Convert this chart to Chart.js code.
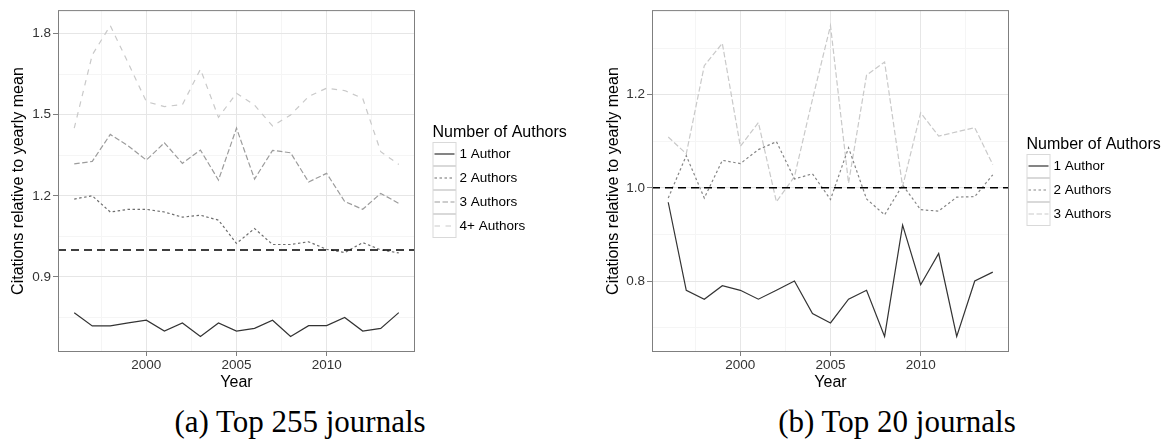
<!DOCTYPE html>
<html>
<head>
<meta charset="utf-8">
<script src="https://cdn.jsdelivr.net/npm/chart.js@4.4.1/dist/chart.umd.min.js"></script>
<style>
  body { margin: 0; background: #fff; }
  #page { position: relative; width: 1171px; height: 448px; overflow: hidden; background: #fff; }
  canvas { position: absolute; top: 0; }
  #chart-top255 { left: 0; }
  #chart-top20 { left: 590px; }
  .caption {
    position: absolute; top: 404px; width: 400px; text-align: center;
    font-family: "Liberation Serif", "Times New Roman", serif; font-size: 31px;
    line-height: 36px; color: #000; white-space: nowrap;
  }
</style>
</head>
<body>
<div id="page">
  <canvas id="chart-top255" width="575" height="395"></canvas>
  <canvas id="chart-top20" width="581" height="395"></canvas>
  <div class="caption" style="left:100px">(a) Top 255 journals</div>
  <div class="caption" style="left:697px">(b) Top 20 journals</div>
</div>
<script>
const years = [1996, 1997, 1998, 1999, 2000, 2001, 2002, 2003, 2004, 2005,
               2006, 2007, 2008, 2009, 2010, 2011, 2012, 2013, 2014];

// top 255 journals
const top255OneAuthor   = [0.768, 0.719, 0.719, 0.730, 0.740, 0.700, 0.730, 0.680, 0.730, 0.700,
                           0.710, 0.740, 0.680, 0.720, 0.720, 0.750, 0.700, 0.710, 0.768];
const top255TwoAuthors  = [1.188, 1.200, 1.140, 1.150, 1.150, 1.140, 1.121, 1.128, 1.110, 1.024,
                           1.079, 1.020, 1.020, 1.030, 1.002, 0.990, 1.027, 1.000, 0.989];
const top255ThreeAuthors = [1.318, 1.327, 1.427, 1.384, 1.332, 1.396, 1.320, 1.369, 1.258, 1.450,
                            1.262, 1.368, 1.359, 1.251, 1.283, 1.179, 1.150, 1.209, 1.172];
const top255FourPlus    = [1.450, 1.721, 1.829, 1.690, 1.548, 1.530, 1.537, 1.668, 1.490, 1.579,
                           1.535, 1.458, 1.499, 1.567, 1.598, 1.589, 1.560, 1.363, 1.316];

// top 20 journals
const top20OneAuthor    = [0.969, 0.780, 0.761, 0.790, 0.780, 0.761, 0.780, 0.800, 0.730, 0.710,
                           0.761, 0.780, 0.681, 0.920, 0.792, 0.859, 0.681, 0.800, 0.819];
const top20TwoAuthors   = [0.978, 1.069, 0.978, 1.059, 1.052, 1.082, 1.099, 1.019, 1.030, 0.975,
                           1.086, 0.976, 0.942, 1.006, 0.953, 0.950, 0.980, 0.981, 1.028];
const top20ThreeAuthors = [1.109, 1.073, 1.262, 1.310, 1.089, 1.140, 0.970, 1.024, 1.190, 1.348,
                           1.010, 1.242, 1.270, 1.003, 1.161, 1.111, 1.120, 1.129, 1.050];

const yearMajor = [2000, 2005, 2010];
const yearMinor = [1997.5, 2002.5, 2007.5, 2012.5];
const top255Major = [0.9, 1.2, 1.5, 1.8];
const top255Minor = [0.75, 1.05, 1.35, 1.65];
const top20Major = [0.8, 1.0, 1.2];
const top20Minor = [0.7, 0.9, 1.1, 1.3];

const referenceLevel = 1.0;

const SANS = '"Liberation Sans", Arial, Helvetica, sans-serif';

function points(values) {
    return years.map((y, i) => ({x: y, y: values[i]}));
}

// ggplot-style 5% expansion of the data range
function expandRange(lo, hi) {
    const pad = (hi - lo) * 0.05;
    return [lo - pad, hi + pad];
}

// panel border + legend with boxed keys
const panelExtras = {
    id: 'panelExtras',
    afterDraw(chart, args, opts) {
        const {ctx, chartArea} = chart;
        ctx.save();
        ctx.strokeStyle = '#7f7f7f';
        ctx.lineWidth = 1;
        ctx.strokeRect(chartArea.left + 0.5, chartArea.top + 0.5,
                       chartArea.right - chartArea.left - 1, chartArea.bottom - chartArea.top - 1);

        const items = chart.data.datasets.filter(d => !d.isReference);
        const key = 24;
        const x = chartArea.right + opts.gap;
        const mid = (chartArea.top + chartArea.bottom) / 2;
        const keysTop = Math.round(mid - items.length * key / 2 + 8.7);

        ctx.textBaseline = 'middle';
        ctx.fillStyle = '#000';
        ctx.font = '16px ' + SANS;
        ctx.fillText(opts.title, x, keysTop - 9.5);

        items.forEach((d, i) => {
            const y = keysTop + i * key;
            ctx.fillStyle = '#fff';
            ctx.fillRect(x, y, key, key);
            ctx.strokeStyle = '#d9d9d9';
            ctx.lineWidth = 1;
            ctx.setLineDash([]);
            ctx.strokeRect(x + 0.5, y + 0.5, key - 1, key - 1);

            ctx.beginPath();
            ctx.setLineDash(d.borderDash || []);
            ctx.strokeStyle = d.borderColor;
            ctx.lineWidth = d.borderWidth;
            ctx.moveTo(x + 2, y + key / 2);
            ctx.lineTo(x + key - 2, y + key / 2);
            ctx.stroke();
            ctx.setLineDash([]);

            ctx.fillStyle = '#000';
            ctx.font = '13.5px ' + SANS;
            ctx.fillText(d.label, x + key + 3, y + key / 2 + 0.5);
        });
        ctx.restore();
    }
};

function seriesDataset(label, values, color, dash) {
    return {
        label: label,
        data: points(values),
        borderColor: color,
        borderDash: dash,
        borderWidth: 1.2,
        pointRadius: 0,
        tension: 0,
        fill: false
    };
}

function loadRelativeCitations(canvasId, series, yMajor, yMinor, layout) {
    const ctx = document.getElementById(canvasId).getContext('2d');
    const all = series.flatMap(s => s.values);
    const [yMin, yMax] = expandRange(Math.min(...all), Math.max(...all));
    const [xMin, xMax] = expandRange(years[0], years[years.length - 1]);

    const datasets = series.map(s => seriesDataset(s.label, s.values, s.color, s.dash));
    datasets.push({
        label: 'mean',
        isReference: true,
        data: [{x: xMin, y: referenceLevel}, {x: xMax, y: referenceLevel}],
        borderColor: '#000',
        borderDash: [8, 5],
        borderWidth: 1.5,
        pointRadius: 0,
        order: -1
    });

    const myChart = new Chart(ctx, {
        type: 'line',
        data: {datasets: datasets},
        options: {
            responsive: false,
            animation: false,
            events: [],
            layout: {padding: {left: 0, top: 10, right: layout.right, bottom: 0}},
            plugins: {
                legend: {display: false},
                tooltip: {enabled: false},
                panelExtras: {title: 'Number of Authors', gap: 17.5}
            },
            scales: {
                x: {
                    type: 'linear',
                    min: xMin,
                    max: xMax,
                    afterBuildTicks: scale => {
                        scale.ticks = yearMinor.concat(yearMajor).sort((a, b) => a - b).map(v => ({value: v}));
                    },
                    afterFit: scale => { scale.height = 43; },
                    ticks: {
                        autoSkip: false,
                        maxRotation: 0,
                        padding: 1,
                        color: '#333',
                        font: {family: SANS, size: 13.5},
                        callback: v => yearMajor.includes(v) ? String(v) : ''
                    },
                    grid: {
                        color: c => yearMajor.includes(c.tick.value) ? '#e6e6e6' : '#f5f5f5',
                        tickColor: c => yearMajor.includes(c.tick.value) ? '#7f7f7f' : 'rgba(0,0,0,0)',
                        tickLength: 4,
                        lineWidth: 1
                    },
                    border: {display: false},
                    title: {
                        display: true,
                        text: 'Year',
                        color: '#000',
                        font: {family: SANS, size: 16},
                        padding: {top: 0, bottom: 3}
                    }
                },
                y: {
                    type: 'linear',
                    min: yMin,
                    max: yMax,
                    afterBuildTicks: scale => {
                        scale.ticks = yMinor.concat(yMajor).sort((a, b) => a - b).map(v => ({value: v}));
                    },
                    afterFit: scale => { scale.width = layout.left; },
                    ticks: {
                        padding: 2,
                        color: '#333',
                        font: {family: SANS, size: 13.5},
                        callback: v => yMajor.includes(v) ? v.toFixed(1) : ''
                    },
                    grid: {
                        color: c => yMajor.includes(c.tick.value) ? '#e6e6e6' : '#f5f5f5',
                        tickColor: c => yMajor.includes(c.tick.value) ? '#7f7f7f' : 'rgba(0,0,0,0)',
                        tickLength: 5,
                        lineWidth: 1
                    },
                    border: {display: false},
                    title: {
                        display: true,
                        text: 'Citations relative to yearly mean',
                        color: '#000',
                        font: {family: SANS, size: 16},
                        padding: {top: layout.titleOffset, bottom: 0}
                    }
                }
            }
        },
        plugins: [panelExtras]
    });
    return myChart;
}

loadRelativeCitations('chart-top255', [
    {label: '1 Author',   values: top255OneAuthor,    color: '#333333', dash: []},
    {label: '2 Authors',  values: top255TwoAuthors,   color: '#6e6e6e', dash: [2.5, 2.5]},
    {label: '3 Authors',  values: top255ThreeAuthors, color: '#9c9c9c', dash: [5.5, 2.5]},
    {label: '4+ Authors', values: top255FourPlus,     color: '#c9c9c9', dash: [5.5, 5.5]}
], top255Major, top255Minor, {left: 58, right: 160, titleOffset: 9});

loadRelativeCitations('chart-top20', [
    {label: '1 Author',  values: top20OneAuthor,    color: '#333333', dash: []},
    {label: '2 Authors', values: top20TwoAuthors,   color: '#858585', dash: [2.5, 2.5]},
    {label: '3 Authors', values: top20ThreeAuthors, color: '#c9c9c9', dash: [5.5, 2.5]}
], top20Major, top20Minor, {left: 62, right: 162, titleOffset: 14});
</script>
</body>
</html>
